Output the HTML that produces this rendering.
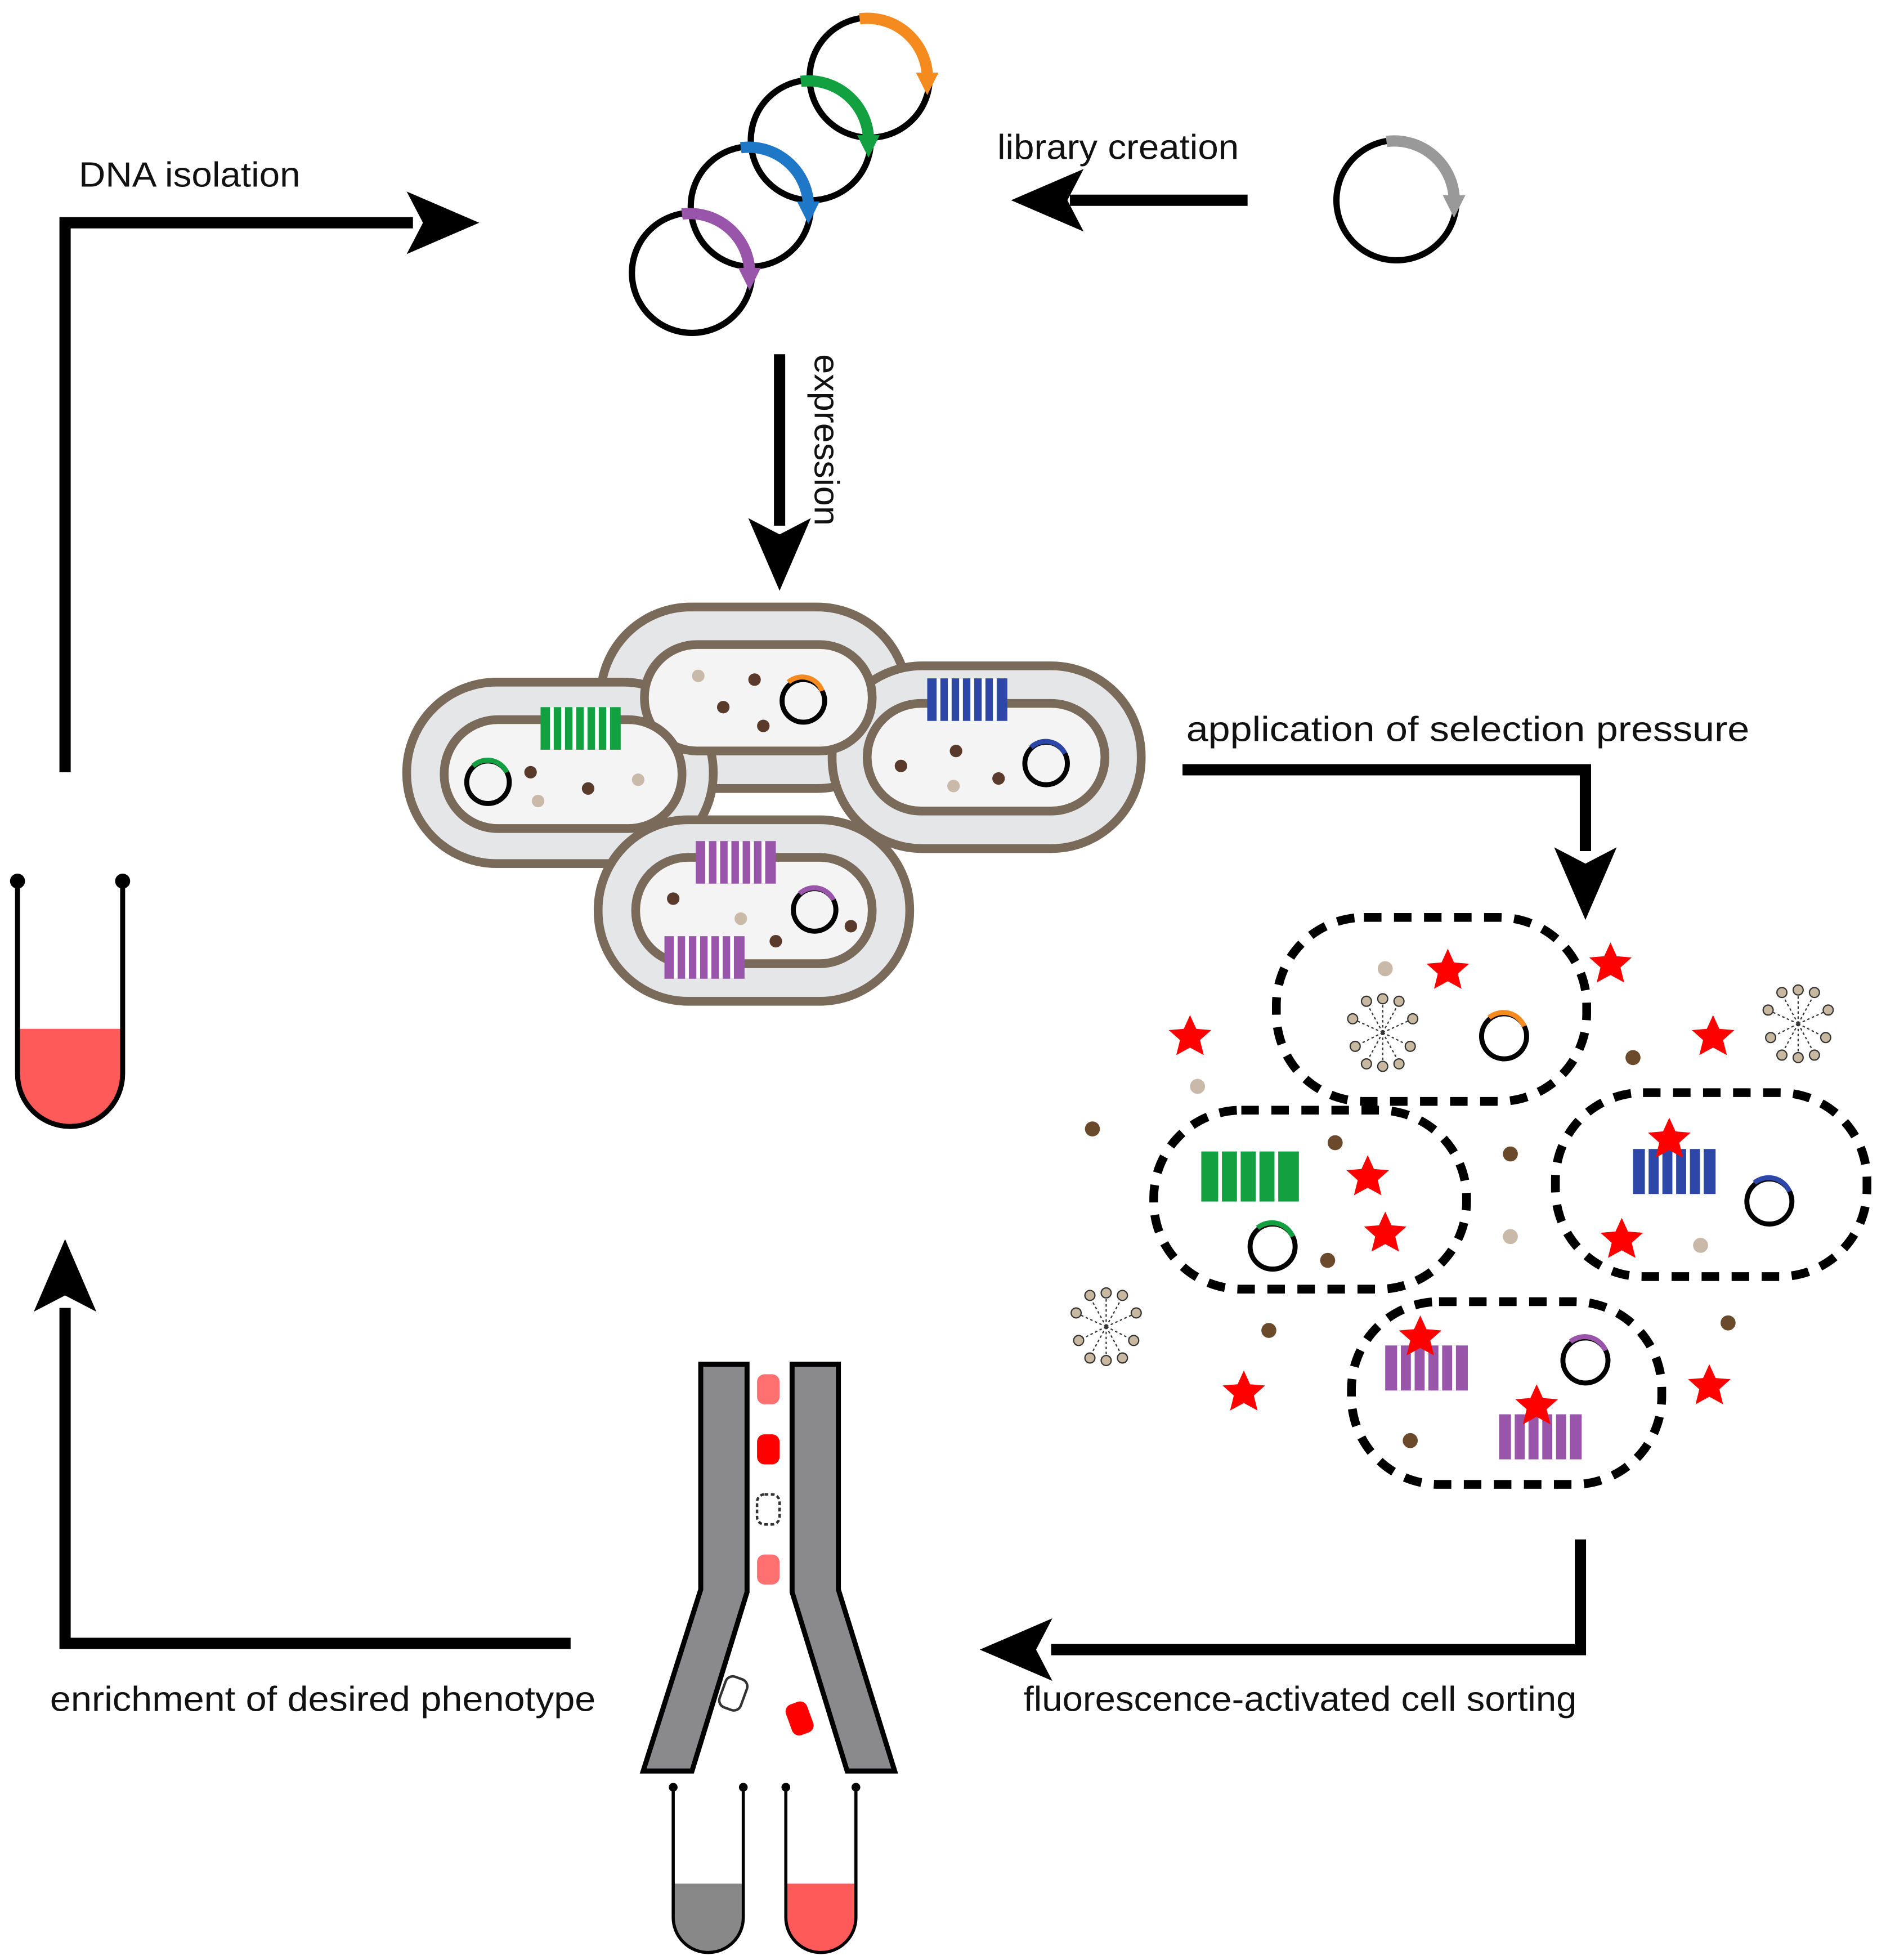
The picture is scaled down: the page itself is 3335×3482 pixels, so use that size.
<!DOCTYPE html>
<html><head><meta charset="utf-8"><style>html,body{margin:0;padding:0;background:#fff}svg{display:block}</style></head>
<body>
<svg width="3335" height="3482" viewBox="0 0 1500 1566" preserveAspectRatio="none" xmlns="http://www.w3.org/2000/svg" font-family="Liberation Sans, sans-serif">
<defs>
<g id="star"><polygon points="0,-17 5,-6 17,-5 8,3 11,15 0,9 -11,15 -8,3 -17,-5 -5,-6" fill="#f00"/></g>
<g id="mic" stroke="#333" stroke-width="1" fill="#c8b8a0">
<path d="M0,0 L-22,-10 M0,0 L-20,10 M0,0 L22,-10 M0,0 L20,10 M0,0 L0,-24 M0,0 L0,24 M0,0 L-12,-22 M0,0 L12,22 M0,0 L12,-22 M0,0 L-12,22" fill="none" stroke-dasharray="2,2"/>
<circle cx="-24" cy="-11" r="4"/><circle cx="-22" cy="11" r="4"/><circle cx="24" cy="-11" r="4"/><circle cx="22" cy="11" r="4"/><circle cx="0" cy="-27" r="4"/><circle cx="0" cy="27" r="4"/><circle cx="-13" cy="-25" r="4"/><circle cx="13" cy="25" r="4"/><circle cx="13" cy="-25" r="4"/><circle cx="-13" cy="25" r="4"/>
</g>
</defs>
<g font-size="28" fill="#111" lengthAdjust="spacingAndGlyphs">
<text x="63" y="149" textLength="177" lengthAdjust="spacingAndGlyphs">DNA isolation</text>
<text x="797" y="127" textLength="193" lengthAdjust="spacingAndGlyphs">library creation</text>
<text x="948" y="592" textLength="450" lengthAdjust="spacingAndGlyphs">application of selection pressure</text>
<text x="40" y="1367" textLength="436" lengthAdjust="spacingAndGlyphs">enrichment of desired phenotype</text>
<text x="818" y="1367" textLength="442" lengthAdjust="spacingAndGlyphs">fluorescence-activated cell sorting</text>
<text transform="translate(651,283) rotate(90)" textLength="137" lengthAdjust="spacingAndGlyphs">expression</text>
</g>
<!-- arrows -->
<g fill="none" stroke="#000" stroke-width="9">
<polyline points="52,617 52,178 330,178"/>
<line x1="997" y1="160" x2="855" y2="160"/>
<line x1="623" y1="283" x2="623" y2="420"/>
<polyline points="945,615 1267,615 1267,680"/>
<polyline points="1263,1230 1263,1318 840,1318"/>
<polyline points="456,1313 52,1313 52,1045"/>
</g>
<g fill="#000">
<polygon points="383,178 325,153 338,178 325,203"/>
<polygon points="808,160 866,135 853,160 866,185"/>
<polygon points="623,472 598,414 623,427 648,414"/>
<polygon points="1267,735 1242,677 1267,690 1292,677"/>
<polygon points="783,1318 841,1293 828,1318 841,1343"/>
<polygon points="52,990 27,1048 52,1035 77,1048"/>
</g>
<!-- plasmids -->
<g fill="none" stroke-width="5">
<circle cx="553" cy="218" r="48" stroke="#000"/>
<circle cx="600" cy="165" r="48" stroke="#000"/>
<circle cx="648" cy="112" r="48" stroke="#000"/>
<circle cx="695" cy="62" r="48" stroke="#000"/>
<circle cx="1116" cy="160" r="48" stroke="#000"/>
<path d="M545,171 A48,48 0 0 1 599,222" stroke="#9955aa" stroke-width="9"/>
<path d="M592,118 A48,48 0 0 1 646,169" stroke="#1f77c8" stroke-width="9"/>
<path d="M640,65 A48,48 0 0 1 694,116" stroke="#12a040" stroke-width="9"/>
<path d="M687,15 A48,48 0 0 1 741,66" stroke="#f58a1f" stroke-width="9"/>
<path d="M1108,113 A48,48 0 0 1 1162,164" stroke="#999" stroke-width="9"/>
</g>
<polygon points="599,232 590,214 608,214" fill="#9955aa"/>
<polygon points="646,179 637,161 655,161" fill="#1f77c8"/>
<polygon points="694,126 685,108 703,108" fill="#12a040"/>
<polygon points="741,76 732,58 750,58" fill="#f58a1f"/>
<polygon points="1162,174 1153,156 1171,156" fill="#999"/>
<!-- cells -->
<g stroke="#7a6a5a" stroke-width="7">
<rect x="480" y="485" width="245" height="145" rx="72" fill="#e4e6e8"/>
<rect x="325" y="545" width="245" height="145" rx="72" fill="#e4e6e8"/>
<rect x="665" y="532" width="247" height="146" rx="72" fill="#e4e6e8"/>
<rect x="478" y="655" width="249" height="145" rx="72" fill="#e4e6e8"/>
<rect x="515" y="515" width="182" height="85" rx="42" fill="#f4f4f4"/>
<rect x="355" y="575" width="190" height="87" rx="43" fill="#f4f4f4"/>
<rect x="693" y="562" width="190" height="86" rx="43" fill="#f4f4f4"/>
<rect x="508" y="685" width="189" height="85" rx="42" fill="#f4f4f4"/>
</g>
<g fill="none" stroke="#000" stroke-width="4">
<circle cx="642" cy="560" r="17"/><circle cx="390" cy="625" r="17"/><circle cx="836" cy="610" r="17"/><circle cx="651" cy="727" r="17"/>
<circle cx="1202" cy="828" r="18"/><circle cx="1017" cy="996" r="18"/><circle cx="1414" cy="960" r="18"/><circle cx="1267" cy="1087" r="18"/>
</g>
<g fill="none" stroke-width="4">
<path d="M630,545 A17,17 0 0 1 657,552" stroke="#f58a1f"/>
<path d="M378,612 A17,17 0 0 1 405,617" stroke="#12a040"/>
<path d="M824,597 A17,17 0 0 1 851,602" stroke="#2c47a8"/>
<path d="M639,714 A17,17 0 0 1 666,719" stroke="#9955aa"/>
<path d="M1190,813 A18,18 0 0 1 1218,820" stroke="#f58a1f"/>
<path d="M1005,981 A18,18 0 0 1 1033,988" stroke="#12a040"/>
<path d="M1402,945 A18,18 0 0 1 1430,952" stroke="#2c47a8"/>
<path d="M1255,1072 A18,18 0 0 1 1283,1079" stroke="#9955aa"/>
</g>
<g fill="#12a040"><rect x="432" y="565" width="64" height="34"/></g>
<g fill="#2c47a8"><rect x="741" y="542" width="64" height="34"/></g>
<g fill="#9955aa"><rect x="556" y="672" width="64" height="34"/><rect x="531" y="748" width="64" height="34"/></g>
<g stroke="#fff" stroke-width="3">
<path d="M441,565v34M450,565v34M459,565v34M468,565v34M477,565v34M486,565v34"/>
<path d="M750,542v34M759,542v34M768,542v34M777,542v34M786,542v34M795,542v34"/>
<path d="M565,672v34M574,672v34M583,672v34M592,672v34M601,672v34M610,672v34M540,748v34M549,748v34M558,748v34M567,748v34M576,748v34M585,748v34"/>
</g>
<g fill="#5a3a2a"><circle cx="603" cy="543" r="5"/><circle cx="578" cy="565" r="5"/><circle cx="610" cy="580" r="5"/><circle cx="424" cy="617" r="5"/><circle cx="470" cy="630" r="5"/><circle cx="720" cy="612" r="5"/><circle cx="764" cy="600" r="5"/><circle cx="798" cy="622" r="5"/><circle cx="538" cy="718" r="5"/><circle cx="620" cy="752" r="5"/><circle cx="680" cy="740" r="5"/></g>
<g fill="#c9b9a9"><circle cx="558" cy="540" r="5"/><circle cx="430" cy="640" r="5"/><circle cx="510" cy="623" r="5"/><circle cx="762" cy="628" r="5"/><circle cx="592" cy="734" r="5"/></g>
<!-- dashed cells -->
<g fill="none" stroke="#000" stroke-width="7" stroke-dasharray="14,10">
<rect x="1020" y="733" width="248" height="147" rx="70"/>
<rect x="922" y="887" width="250" height="143" rx="70"/>
<rect x="1243" y="873" width="249" height="147" rx="70"/>
<rect x="1080" y="1040" width="248" height="146" rx="70"/>
</g>
<rect x="960" y="920" width="78" height="40" fill="#12a040"/>
<rect x="1305" y="918" width="66" height="36" fill="#2c47a8"/>
<rect x="1107" y="1075" width="66" height="36" fill="#9955aa"/>
<rect x="1198" y="1130" width="66" height="36" fill="#9955aa"/>
<g stroke="#fff" stroke-width="3"><path d="M1316,918v36M1327,918v36M1338,918v36M1349,918v36M1360,918v36M1118,1075v36M1129,1075v36M1140,1075v36M1151,1075v36M1162,1075v36M1209,1130v36M1220,1130v36M1231,1130v36M1242,1130v36M1253,1130v36M975,920v40M990,920v40M1005,920v40M1020,920v40"/></g>
<use href="#mic" x="1105" y="825"/><use href="#mic" x="1437" y="818"/><use href="#mic" x="884" y="1060"/>
<use href="#star" x="1157" y="775"/><use href="#star" x="1287" y="770"/><use href="#star" x="951" y="828"/><use href="#star" x="1369" y="828"/><use href="#star" x="1093" y="940"/><use href="#star" x="1107" y="985"/><use href="#star" x="1334" y="910"/><use href="#star" x="1296" y="990"/><use href="#star" x="1135" y="1068"/><use href="#star" x="1228" y="1123"/><use href="#star" x="994" y="1112"/><use href="#star" x="1366" y="1107"/>
<g fill="#6a4a2a"><circle cx="1305" cy="845" r="6"/><circle cx="873" cy="902" r="6"/><circle cx="1067" cy="913" r="6"/><circle cx="1207" cy="922" r="6"/><circle cx="1061" cy="1007" r="6"/><circle cx="1014" cy="1063" r="6"/><circle cx="1381" cy="1057" r="6"/><circle cx="1127" cy="1151" r="6"/></g>
<g fill="#c9b9a9"><circle cx="1107" cy="774" r="6"/><circle cx="957" cy="868" r="6"/><circle cx="1207" cy="988" r="6"/><circle cx="1359" cy="995" r="6"/></g>
<!-- left tube -->
<path d="M14,822 L98,822 L98,858 A42,42 0 0 1 14,858 Z" fill="#ff5a5a"/>
<path d="M14,704 L14,858 A42,42 0 0 0 98,858 L98,704" fill="none" stroke="#000" stroke-width="4"/>
<circle cx="14" cy="704" r="6"/><circle cx="98" cy="704" r="6"/>
<!-- FACS -->
<g fill="#8a8a8c" stroke="#000" stroke-width="4">
<polygon points="560,1090 597,1090 597,1272 553,1415 514,1415 560,1270"/>
<polygon points="633,1090 670,1090 670,1270 715,1415 677,1415 633,1272"/>
</g>
<g>
<rect x="605" y="1098" width="18" height="24" rx="6" fill="#ff7070"/>
<rect x="605" y="1146" width="18" height="24" rx="6" fill="#f00"/>
<rect x="605" y="1194" width="18" height="24" rx="6" fill="none" stroke="#333" stroke-width="2" stroke-dasharray="3,2"/>
<rect x="605" y="1242" width="18" height="24" rx="6" fill="#ff7070"/>
<rect x="577" y="1340" width="18" height="26" rx="6" fill="none" stroke="#333" stroke-width="2" transform="rotate(20 586 1353)"/>
<rect x="630" y="1360" width="18" height="26" rx="6" fill="#f00" transform="rotate(-20 639 1373)"/>
</g>
<path d="M538,1505 L594,1505 L594,1532 A28,28 0 0 1 538,1532 Z" fill="#888"/>
<path d="M628,1505 L684,1505 L684,1532 A28,28 0 0 1 628,1532 Z" fill="#ff5a5a"/>
<g fill="none" stroke="#000" stroke-width="2.5">
<path d="M538,1428 L538,1532 A28,28 0 0 0 594,1532 L594,1428"/>
<path d="M628,1428 L628,1532 A28,28 0 0 0 684,1532 L684,1428"/>
</g>
<circle cx="538" cy="1428" r="3.5"/><circle cx="594" cy="1428" r="3.5"/><circle cx="628" cy="1428" r="3.5"/><circle cx="684" cy="1428" r="3.5"/>
</svg>
</body></html>
